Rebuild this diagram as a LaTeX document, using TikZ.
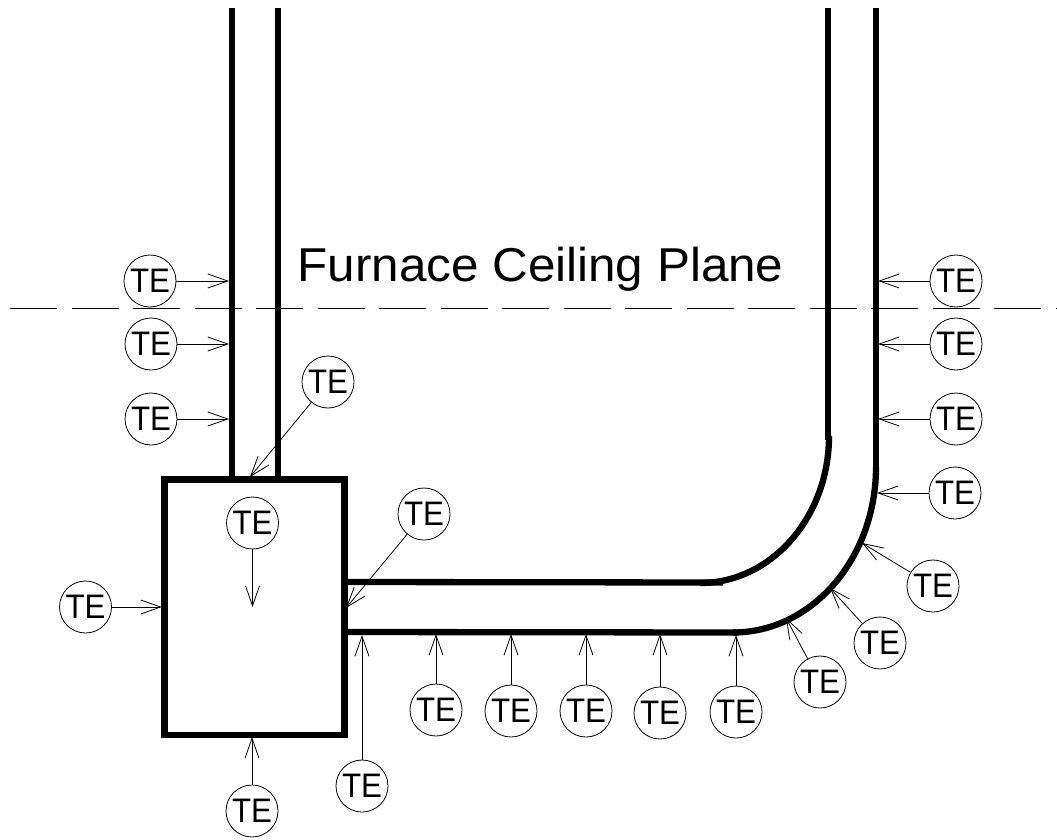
\documentclass[tikz,border=0pt]{standalone}
\usepackage{fontspec}
\setmainfont{Liberation Sans}
\newfontfamily\sensorfont[FakeStretch=0.92]{Liberation Sans}
\newfontfamily\planefont[FakeStretch=1.04]{Liberation Sans}
\usetikzlibrary{arrows.meta}

\tikzset{
  wall/.style={line width=6.3pt},
  sensor/.style={circle, draw, line width=0.8pt, minimum size=52pt, inner sep=0pt, font=\fontsize{34}{34}\sensorfont},
  lead/.style={line width=0.8pt, -{Straight Barb[length=20pt, width=14pt, line width=0.8pt]}}
}

\begin{document}
\begin{tikzpicture}[x=1pt, y=-1pt]

  \useasboundingbox (0,0) rectangle (1057,840);

  % furnace walls
  \draw[wall] (232,8) -- (232,479);
  \draw[wall] (278,8) -- (278,479);
  \draw[wall] (164.5,479.5) rectangle (344.5,735);
  \draw[wall] (828,8) -- (828,440);
  \draw[wall] (876,8) -- (876,467);
  \draw[wall] (829,436) arc[start angle=0, end angle=90, x radius=129, y radius=147];
  \draw[wall] (876,467) arc[start angle=0, end angle=90, x radius=143, y radius=165.5];
  \draw[wall] (345,582) -- (723,582.5);
  \draw[wall] (345,632) -- (737,632.5);

  % ceiling plane
  \draw[line width=0.8pt, dash pattern=on 47pt off 14.5pt] (10,308.5) -- (1057,308.5);
  \node[anchor=base west, font=\fontsize{47.5}{47.5}\planefont] (plane) at (294,281.5) {Furnace Ceiling Plane};

  % left side
  \node[sensor] (teA) at (150,281) {TE}; \coordinate (tipA) at (229,281); \draw[lead] (teA) -- (tipA);
  \node[sensor] (teB) at (151,344) {TE}; \coordinate (tipB) at (229,344); \draw[lead] (teB) -- (tipB);
  \node[sensor] (teC) at (151,419) {TE}; \coordinate (tipC) at (229,419); \draw[lead] (teC) -- (tipC);
  \node[sensor] (teD) at (328,382) {TE}; \coordinate (tipD) at (250,477); \draw[lead] (teD) -- (tipD);

  % box
  \node[sensor] (teE) at (252.5,523) {TE}; \coordinate (tipE) at (252.5,607); \draw[lead] (teE) -- (tipE);
  \node[sensor] (teF) at (85.5,607) {TE}; \coordinate (tipF) at (162,607); \draw[lead] (teF) -- (tipF);
  \node[sensor] (teG) at (424,514) {TE}; \coordinate (tipG) at (346,608); \draw[lead] (teG) -- (tipG);
  \node[sensor] (teH) at (252,811) {TE}; \coordinate (tipH) at (252,737); \draw[lead] (teH) -- (tipH);
  \node[sensor] (teI) at (362,786) {TE}; \coordinate (tipI) at (362,635); \draw[lead] (teI) -- (tipI);

  % bottom row
  \node[sensor] (teJ) at (436,710) {TE}; \coordinate (tipJ) at (436,634); \draw[lead] (teJ) -- (tipJ);
  \node[sensor] (teK) at (511,711) {TE}; \coordinate (tipK) at (511,634); \draw[lead] (teK) -- (tipK);
  \node[sensor] (teL) at (586,711) {TE}; \coordinate (tipL) at (586,634); \draw[lead] (teL) -- (tipL);
  \node[sensor] (teM) at (660,713) {TE}; \coordinate (tipM) at (660,634); \draw[lead] (teM) -- (tipM);
  \node[sensor] (teN) at (736,712) {TE}; \coordinate (tipN) at (736,635); \draw[lead] (teN) -- (tipN);

  % bend
  \node[sensor] (teO) at (820,682) {TE}; \coordinate (tipO) at (786,618); \draw[lead] (teO) -- (tipO);
  \node[sensor] (teP) at (880,643) {TE}; \coordinate (tipP) at (830,588); \draw[lead] (teP) -- (tipP);
  \node[sensor] (teQ) at (933,586) {TE}; \coordinate (tipQ) at (862,543); \draw[lead] (teQ) -- (tipQ);

  % right side
  \node[sensor] (teR) at (955,493) {TE}; \coordinate (tipR) at (877,493); \draw[lead] (teR) -- (tipR);
  \node[sensor] (teS) at (956,419) {TE}; \coordinate (tipS) at (878,419); \draw[lead] (teS) -- (tipS);
  \node[sensor] (teT) at (956,344) {TE}; \coordinate (tipT) at (878,344); \draw[lead] (teT) -- (tipT);
  \node[sensor] (teU) at (956,281) {TE}; \coordinate (tipU) at (878,281); \draw[lead] (teU) -- (tipU);

\end{tikzpicture}
\end{document}
